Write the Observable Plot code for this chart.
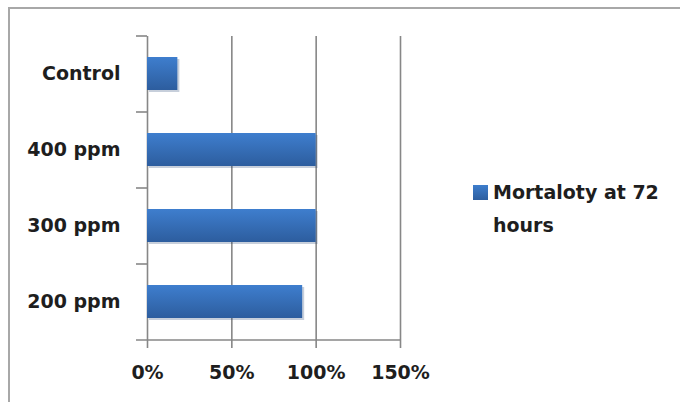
<!DOCTYPE html>
<html>
<head>
<meta charset="utf-8">
<script src="https://cdn.jsdelivr.net/npm/d3@7"></script>
<script src="https://cdn.jsdelivr.net/npm/@observablehq/plot@0.6"></script>
<style>
  html, body { margin: 0; padding: 0; background: #fff; }
  #wrap { position: relative; width: 680px; height: 402px; overflow: hidden; background: #fff; }
  #frame { position: absolute; left: 8px; top: 7px; width: 700px; height: 420px;
           border-left: 2px solid #a8a8a8; border-top: 2px solid #a8a8a8; box-sizing: border-box; }
  #chart { position: absolute; left: 0; top: 0; }
  #legend { position: absolute; left: 473px; top: 176px; font-family: "DejaVu Sans", sans-serif;
            font-weight: bold; font-size: 19px; color: #1e1e1e; line-height: 33px; }
  #legend .sw { display: inline-block; width: 15px; height: 15px; vertical-align: -1px; margin-right: 5px;
                background: linear-gradient(#3d7dcc, #2d5e9f); }
  #legend .l2 { padding-left: 20px; }
</style>
</head>
<body>
<div id="wrap">
  <div id="frame"></div>
  <div id="chart"></div>
  <div id="legend"><div><span class="sw"></span>Mortaloty at 72</div><div class="l2">hours</div></div>
</div>
<script>
const categories = ["Control", "400 ppm", "300 ppm", "200 ppm"];
const mortality = [18, 100, 100, 92];
const xTicks = [0, 50, 100, 150];
const gridValues = [50, 100, 150];
const tickFormat = d => d + "%";

const data = categories.map((c, i) => ({category: c, value: mortality[i]}));

const W = 680, H = 402, mt = 36, mb = 62, ml = 147, mr = 280;
const step = (H - mt - mb) / categories.length;
const axisColor = "#878787";

const plot = Plot.plot({
  width: W,
  height: H,
  marginTop: mt,
  marginBottom: mb,
  marginLeft: ml,
  marginRight: mr,
  style: {fontFamily: "DejaVu Sans, sans-serif", fontSize: "19px", fontWeight: "bold", color: "#1e1e1e", background: "transparent"},
  x: {domain: [0, 150]},
  y: {domain: categories, paddingInner: 0.565, paddingOuter: 0.2825},
  marks: [
    Plot.ruleX(gridValues, {stroke: axisColor, strokeWidth: 1.6}),
    Plot.ruleX([0], {stroke: axisColor, strokeWidth: 1.6}),
    // category boundary ticks on the y axis
    Plot.ruleY(categories, {y: d => d, dy: -step / 2, x1: 0, x2: 0, insetLeft: -11, stroke: axisColor, strokeWidth: 1.6}),
    // x axis line (also bottom boundary tick)
    Plot.ruleY([categories[categories.length - 1]], {y: d => d, dy: step / 2, x1: 0, x2: 150, insetLeft: -11, stroke: axisColor, strokeWidth: 1.6}),
    Plot.barX(data, {x: "value", y: "category", fill: "#1f3f70", fillOpacity: 0.25, dx: 2, dy: 2}),
    Plot.barX(data, {x: "value", y: "category", fill: "url(#barGrad)"}),
    Plot.axisX({ticks: xTicks, tickFormat, tickSize: 8, tickPadding: 17, stroke: axisColor, strokeWidth: 1.6, label: null}),
    Plot.axisY({tickSize: 0, tickPadding: 27, label: null})
  ]
});

const svg = d3.select(plot);
const defs = svg.insert("defs", ":first-child");
const g = defs.append("linearGradient").attr("id", "barGrad").attr("x1", 0).attr("y1", 0).attr("x2", 0).attr("y2", 1);
g.append("stop").attr("offset", "0%").attr("stop-color", "#3e7ece");
g.append("stop").attr("offset", "100%").attr("stop-color", "#2d5d9e");

document.getElementById("chart").appendChild(plot);
</script>
</body>
</html>
